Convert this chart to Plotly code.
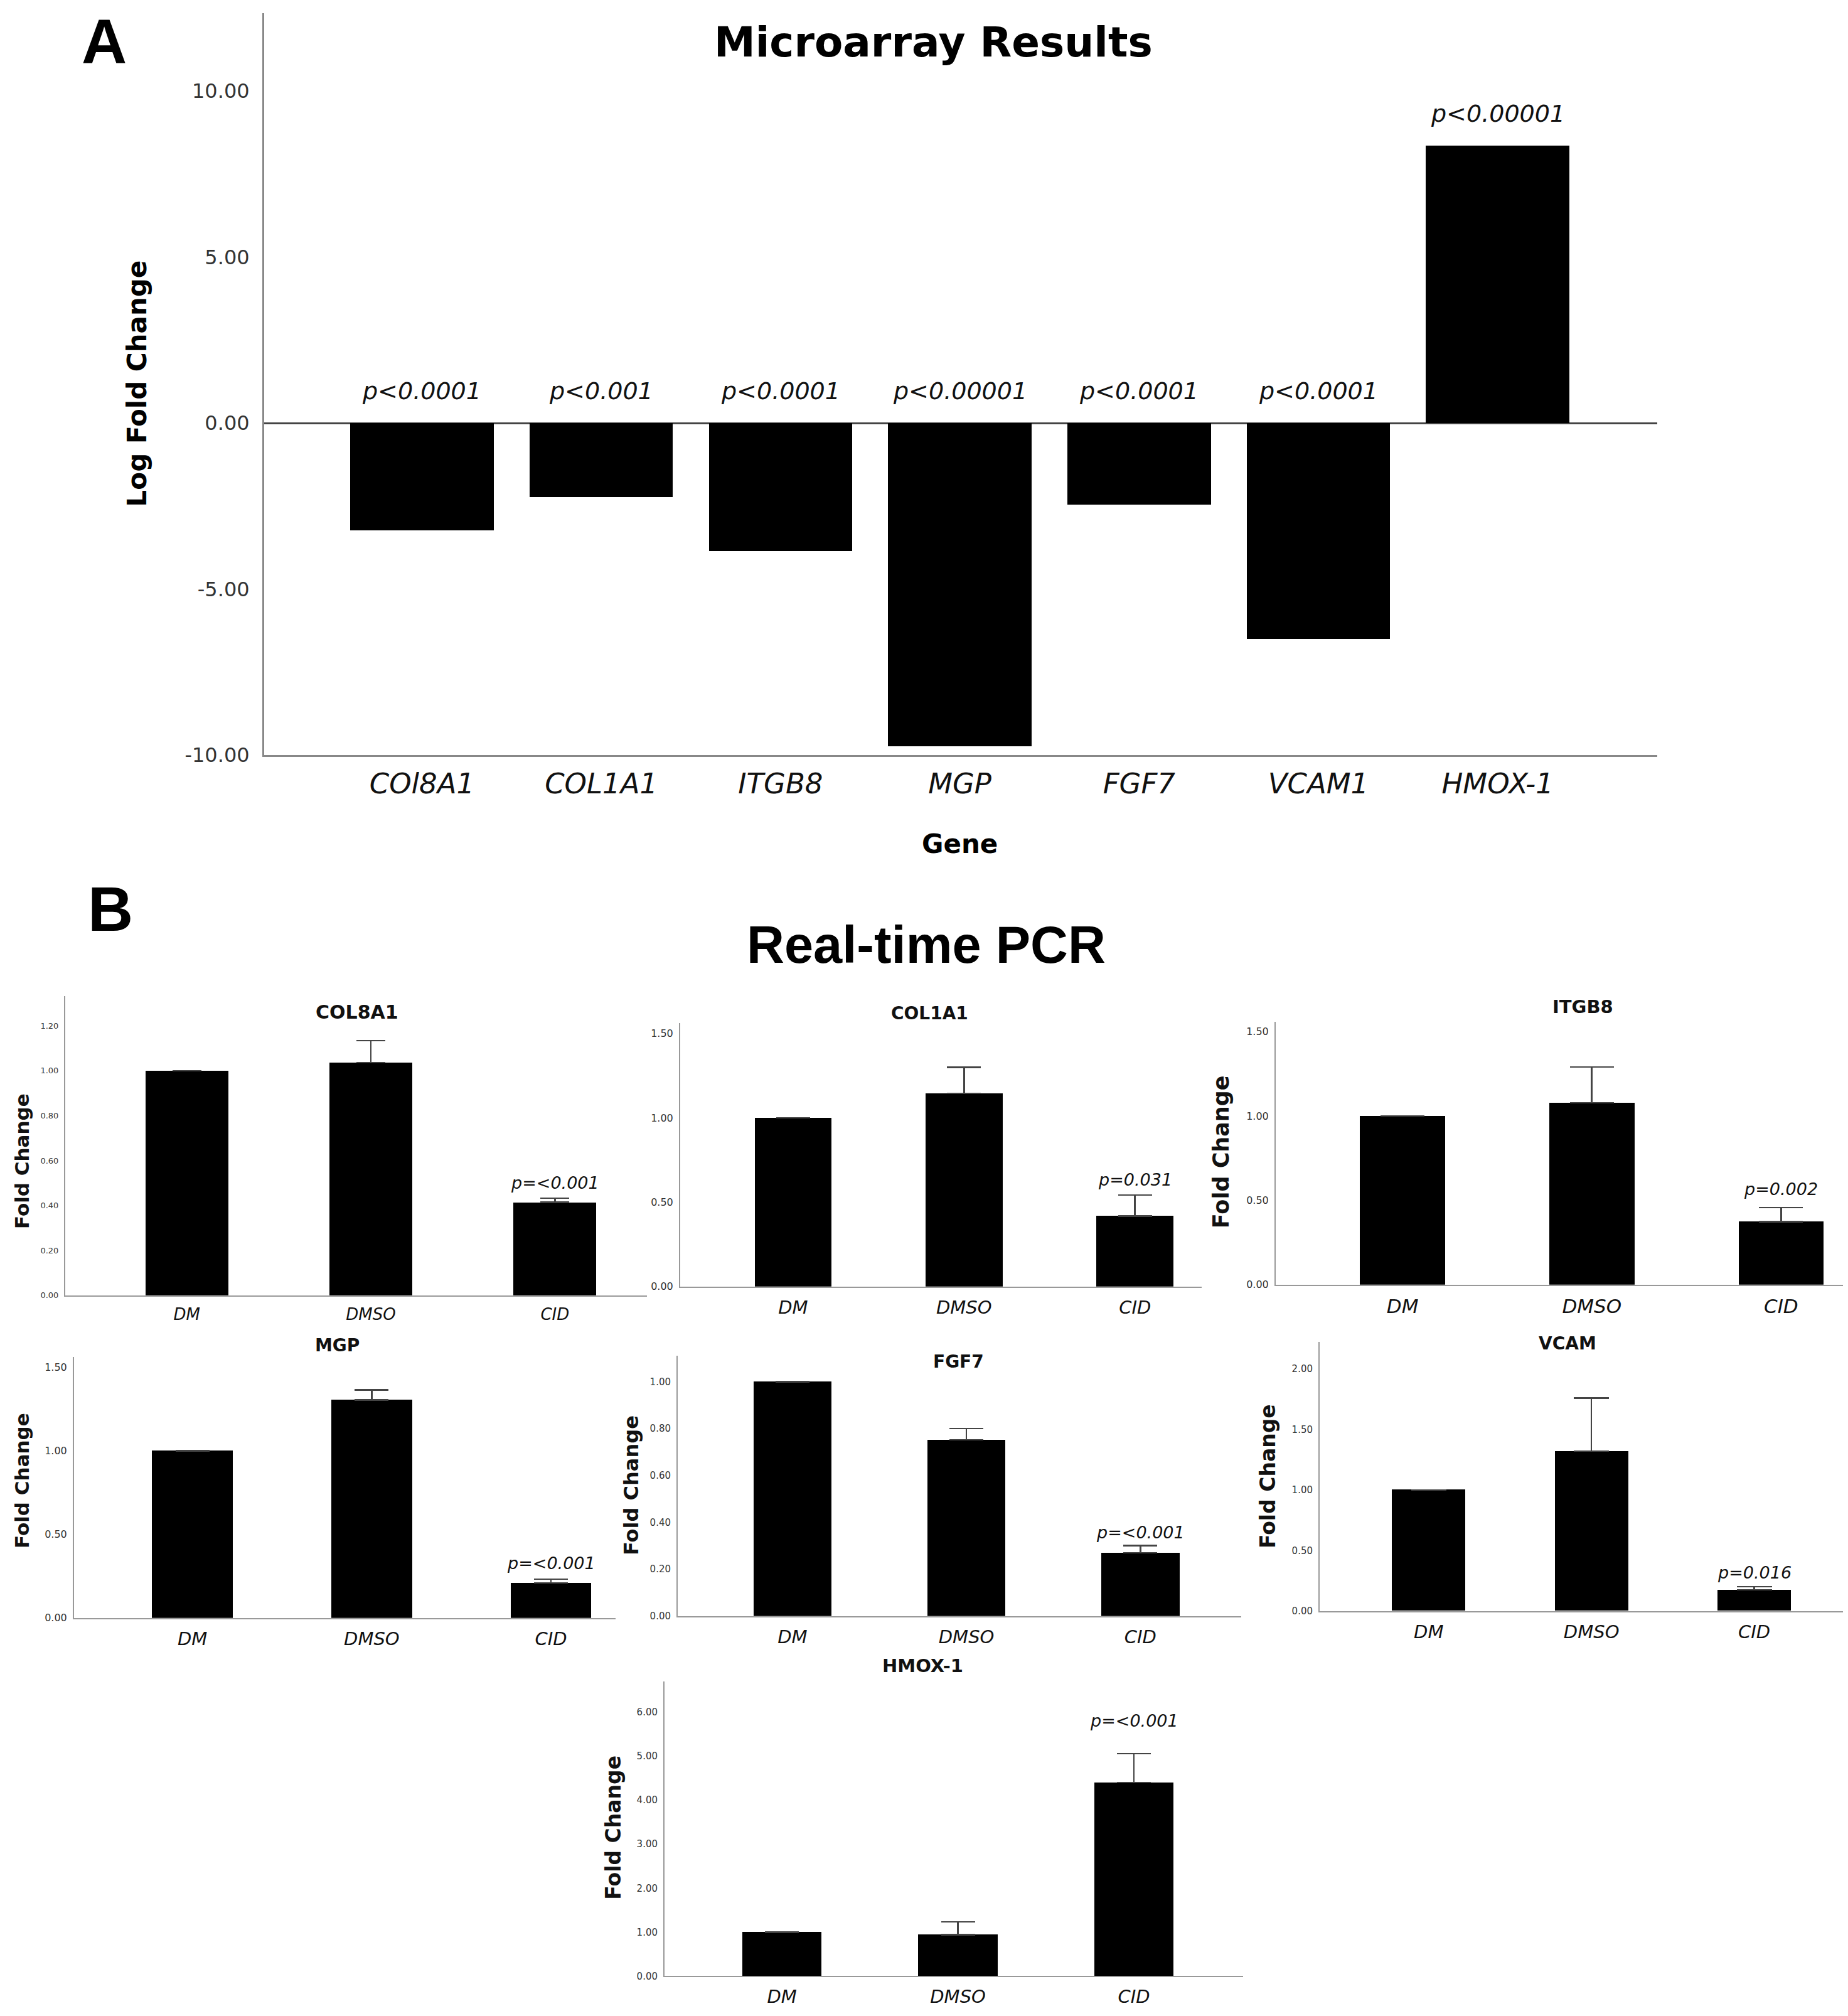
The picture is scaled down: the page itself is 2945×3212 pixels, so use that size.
import plotly.graph_objects as go

W, H = 2945, 3212

# ---- Panel A: microarray results ----
genes = ["COl8A1", "COL1A1", "ITGB8", "MGP", "FGF7", "VCAM1", "HMOX-1"]
log_fc = [-3.23, -2.22, -3.85, -9.73, -2.46, -6.50, 8.36]
p_array = ["p<0.0001", "p<0.001", "p<0.0001", "p<0.00001", "p<0.0001", "p<0.0001", "p<0.00001"]
a_ticks = [-10, -5, 0, 5, 10]

# ---- Panel B: real-time PCR ----
groups = ["DM", "DMSO", "CID"]
pcr_genes = ["COL8A1", "COL1A1", "ITGB8", "MGP", "FGF7", "VCAM", "HMOX-1"]

col8a1_fc = [1.00, 1.036, 0.414]
col8a1_err = [0, 0.097, 0.019]
col1a1_fc = [1.00, 1.145, 0.417]
col1a1_err = [0, 0.155, 0.126]
itgb8_fc = [1.00, 1.078, 0.374]
itgb8_err = [0, 0.212, 0.082]
mgp_fc = [1.00, 1.304, 0.209]
mgp_err = [0, 0.059, 0.022]
fgf7_fc = [1.00, 0.752, 0.27]
fgf7_err = [0, 0.048, 0.03]
vcam_fc = [1.00, 1.32, 0.175]
vcam_err = [0, 0.437, 0.025]
hmox1_fc = [1.00, 0.94, 4.40]
hmox1_err = [0, 0.29, 0.66]

pcr_p = ["p=<0.001", "p=0.031", "p=0.002", "p=<0.001", "p=<0.001", "p=0.016", "p=<0.001"]

ticks_12 = [0, 0.2, 0.4, 0.6, 0.8, 1.0, 1.2]
ticks_15 = [0, 0.5, 1.0, 1.5]
ticks_10 = [0, 0.2, 0.4, 0.6, 0.8, 1.0]
ticks_20 = [0, 0.5, 1.0, 1.5, 2.0]
ticks_60 = [0, 1, 2, 3, 4, 5, 6]

pcr_fc = [col8a1_fc, col1a1_fc, itgb8_fc, mgp_fc, fgf7_fc, vcam_fc, hmox1_fc]
pcr_err = [col8a1_err, col1a1_err, itgb8_err, mgp_err, fgf7_err, vcam_err, hmox1_err]
pcr_ticks = [ticks_12, ticks_15, ticks_15, ticks_15, ticks_10, ticks_20, ticks_60]

# layout of the small panels, in image pixels (left, right, top, bottom)
panels = [
    dict(box=(96, 1023, 1588, 2068), ymax=1.333, xr=(-0.66, 2.5), title=(561, 1614), tsize=30,
         ylab=(27, 1853), lsize=31, tick=13, xfont=26, cap=23, pshift=24),
    dict(box=(1076, 1907, 1632, 2054), ymax=1.56, xr=(-0.66, 2.39), title=(1473, 1616), tsize=28,
         ylab=None, lsize=31, tick=16, xfont=29, cap=27, pshift=24),
    dict(box=(2025, 2945, 1630, 2051), ymax=1.556, xr=(-0.67, 2.38), title=(2514, 1605), tsize=29,
         ylab=(1938, 1838), lsize=35, tick=16, xfont=31, cap=35, pshift=30),
    dict(box=(110, 973, 2167, 2585), ymax=1.56, xr=(-0.66, 2.36), title=(529, 2148), tsize=28,
         ylab=(27, 2365), lsize=31, tick=16, xfont=29, cap=27, pshift=26),
    dict(box=(1072, 1970, 2165, 2582), ymax=1.11, xr=(-0.66, 2.58), title=(1519, 2174), tsize=28,
         ylab=(998, 2373), lsize=32, tick=15, xfont=29, cap=27, pshift=21),
    dict(box=(2095, 2938, 2143, 2574), ymax=2.22, xr=(-0.67, 2.58), title=(2490, 2145), tsize=28,
         ylab=(2012, 2358), lsize=33, tick=15, xfont=29, cap=28, pshift=23),
    dict(box=(1051, 1973, 2687, 3159), ymax=6.7, xr=(-0.667, 2.62), title=(1462, 2662), tsize=29,
         ylab=(970, 2921), lsize=33, tick=15, xfont=29, cap=27, pshift=52),
]


def px_x(p):
    return p / W


def px_y(p):
    return 1 - p / H


SANS = "DejaVu Sans"
fig = go.Figure()
annotations = []

# Panel A bars
fig.add_trace(go.Bar(x=genes, y=log_fc, width=0.8, marker=dict(color="black", line=dict(width=0)),
                     xaxis="x", yaxis="y", hoverinfo="x+y"))
for g, v, p in zip(genes, log_fc, p_array):
    annotations.append(dict(x=g, y=max(v, 0), xref="x", yref="y", text=p, showarrow=False,
                            yanchor="middle", yshift=51,
                            font=dict(family=SANS, size=38, color="#111", style="italic")))

layout = dict(
    width=W, height=H, autosize=False,
    margin=dict(l=0, r=0, t=0, b=0),
    paper_bgcolor="white", plot_bgcolor="white",
    showlegend=False, bargap=0,
    xaxis=dict(domain=[px_x(413), px_x(2633)], anchor="y", range=[-0.88, 6.89],
               showline=True, linecolor="#888", linewidth=3, ticks="", showgrid=False, zeroline=False,
               ticklabelstandoff=4,
               tickfont=dict(family=SANS, size=45, color="#111", style="italic")),
    yaxis=dict(domain=[px_y(1202), px_y(13)], anchor="x", range=[-10, 12.35],
               tickvals=a_ticks, ticktext=[f"{v:.2f}" for v in a_ticks],
               showline=True, linecolor="#888", linewidth=3,
               ticks="", showgrid=False, zeroline=True, zerolinecolor="#444", zerolinewidth=3,
               ticklabelstandoff=14,
               tickfont=dict(family=SANS, size=32, color="#333")),
)

# Panel B bars
for i, (name, fc, err, p, tv, pn) in enumerate(zip(pcr_genes, pcr_fc, pcr_err, pcr_p, pcr_ticks, panels)):
    n = i + 2
    xa, ya = f"x{n}", f"y{n}"
    fig.add_trace(go.Bar(
        x=groups, y=fc, width=0.45, xaxis=xa, yaxis=ya,
        marker=dict(color="black", line=dict(width=0)),
        error_y=dict(type="data", array=err, arrayminus=[0] * len(err), symmetric=False,
                     color="#444", thickness=2.5, width=pn["cap"]),
    ))
    l, r, t, b = pn["box"]
    layout[f"xaxis{n}"] = dict(
        domain=[px_x(l), px_x(r)], anchor=ya, range=list(pn["xr"]),
        showline=True, linecolor="#999", linewidth=2, ticks="", showgrid=False, zeroline=False,
        ticklabelstandoff=6,
        tickfont=dict(family=SANS, size=pn["xfont"], color="#111", style="italic"))
    layout[f"yaxis{n}"] = dict(
        domain=[px_y(b), px_y(t)], anchor=xa, range=[0, pn["ymax"]],
        tickvals=tv, tickformat=".2f", showline=True, linecolor="#999", linewidth=2,
        ticks="", showgrid=False, zeroline=False, ticklabelstandoff=6,
        tickfont=dict(family=SANS, size=pn["tick"], color="#333"))
    # p-value above the CID bar
    annotations.append(dict(x=groups[-1], y=fc[-1] + err[-1], xref=xa, yref=ya, text=p,
                            showarrow=False, yanchor="middle", yshift=pn["pshift"],
                            font=dict(family=SANS, size=27, color="#111", style="italic")))
    tx, ty = pn["title"]
    annotations.append(dict(x=px_x(tx), y=px_y(ty), xref="paper", yref="paper", text=name,
                            showarrow=False, xanchor="center", yanchor="middle",
                            font=dict(family=SANS, size=pn["tsize"], color="#111", weight="bold")))
    if pn["ylab"]:
        lx, ly = pn["ylab"]
        annotations.append(dict(x=px_x(lx), y=px_y(ly), xref="paper", yref="paper", text="Fold Change",
                                showarrow=False, textangle=-90, xanchor="center", yanchor="middle",
                                font=dict(family=SANS, size=pn["lsize"], color="#111", weight="bold")))

# headings and axis titles of panel A
big_text = [
    ("Microarray Results", 1479, 60, SANS, 66, 0),
    ("Log Fold Change", 210, 607, SANS, 42, -90),
    ("Gene", 1521, 1344, SANS, 42, 0),
    ("B", 168, 1449, "Liberation Sans", 100, 0),
    ("Real-time PCR", 1468, 1506, "Liberation Sans", 83, 0),
]
for txt, x, y, fam, size, ang in big_text:
    annotations.append(dict(x=px_x(x), y=px_y(y), xref="paper", yref="paper", text=txt,
                            showarrow=False, textangle=ang, xanchor="center", yanchor="middle",
                            font=dict(family=fam, size=size, color="black", weight="bold")))

# panel letter A sits against the top edge
annotations.append(dict(x=px_x(158), y=1, xref="paper", yref="paper", text="A",
                        showarrow=False, xanchor="center", yanchor="top",
                        font=dict(family="Liberation Sans", size=100, color="black", weight="bold")))

layout["annotations"] = annotations
fig.update_layout(**layout)

fig.write_html("out.html")
